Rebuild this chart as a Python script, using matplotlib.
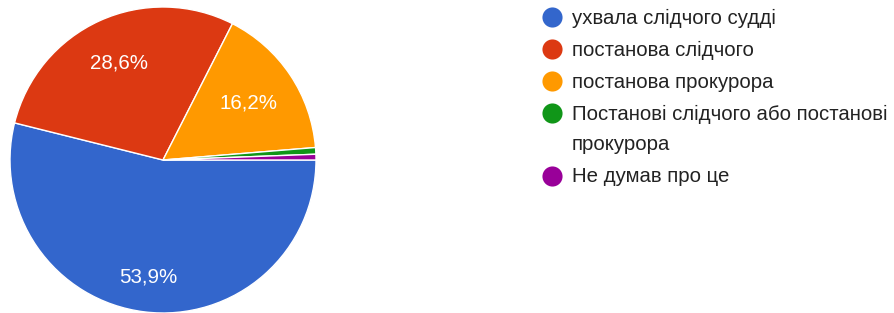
import numpy as np
import matplotlib.pyplot as plt

# дані з діаграми
labels = ['ухвала слідчого судді',
          'постанова слідчого',
          'постанова прокурора',
          'Постанові слідчого або постанові\nпрокурора',
          'Не думав про це']
values = [53.9, 28.6, 16.2, 0.7, 0.6]
colors = ['#3366cc', '#dc3912', '#ff9900', '#109618', '#990099']
label_r = [0.77, 0.70, 0.67, 0.7, 0.7]   # відстань підпису від центру

plt.rcParams['font.family'] = ['Liberation Sans', 'DejaVu Sans']

W, H = 895, 313
fig = plt.figure(figsize=(W/100, H/100), dpi=100)

# кругова діаграма
R = 153
cx, cy = 163, 160
ax = fig.add_axes([(cx-R)/W, (H-cy-R)/H, 2*R/W, 2*R/H])


def pct(p):
    return ('%.1f%%' % p).replace('.', ',') if p > 5 else ''


wedges, texts, autotexts = ax.pie(values, colors=colors, startangle=0, counterclock=False,
                                  autopct=pct, pctdistance=0.7, radius=1,
                                  wedgeprops=dict(edgecolor='white', linewidth=1.0))
for i, t in enumerate(autotexts):
    x, y = t.get_position()
    k = label_r[i] / 0.7
    t.set_position((x*k, y*k))
    t.set_color('white')
    t.set_fontsize(14.8)
ax.set_xlim(-1, 1)
ax.set_ylim(-1, 1)

# легенда
lax = fig.add_axes([0, 0, 1, 1])
lax.set_xlim(0, W)
lax.set_ylim(H, 0)
lax.axis('off')
y = 17
for lab, c in zip(labels, colors):
    lax.scatter([552], [y], s=210, color=c, linewidths=0)
    for j, line in enumerate(lab.split('\n')):
        lax.text(572, y + 1 + 31*j, line, fontsize=14.7, color='#222222', va='center', ha='left')
    y += 32 + 31*lab.count('\n')

fig.savefig('out.png', dpi=100)
